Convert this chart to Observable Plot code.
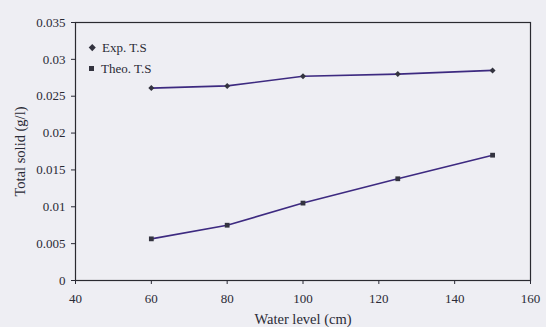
<!DOCTYPE html>
<html>
<head>
<meta charset="utf-8">
<script src="https://cdn.jsdelivr.net/npm/d3@7"></script>
<script src="https://cdn.jsdelivr.net/npm/@observablehq/plot@0.6"></script>
<style>
  html, body { margin: 0; padding: 0; background: #eeeef3; }
  #wrap { position: relative; width: 546px; height: 327px; background: #eeeef3; overflow: hidden; }
  #legend { position: absolute; left: 89px; top: 37px; font-family: "Liberation Serif", serif; font-size: 13px; color: #2a2a35; line-height: 21px; }
  #legend .row { display: flex; align-items: center; white-space: nowrap; }
  #legend .sym { display: inline-block; width: 5px; height: 5px; background: #33333f; margin-right: 7px; }
  #legend .sym.diamond2 { transform: rotate(45deg); width: 4.5px; height: 4.5px; margin-left: 1px; margin-right: 7.5px; }
</style>
</head>
<body>
<div id="wrap"><div id="legend"></div></div>
<script>
// Data
const waterLevel = [60, 80, 100, 125, 150];
const expTS = [0.0261, 0.0264, 0.0277, 0.0280, 0.0285];
const theoTS = [0.00565, 0.0075, 0.0105, 0.0138, 0.0170];
const seriesNames = ["Exp. T.S", "Theo. T.S"];
const seriesSymbols = ["diamond2", "square"];
const xTicks = [40, 60, 80, 100, 120, 140, 160];
const yTicks = [0, 0.005, 0.01, 0.015, 0.02, 0.025, 0.03, 0.035];
const xTitle = "Water level (cm)";
const yTitle = "Total solid (g/l)";

const rows = [];
[expTS, theoTS].forEach((vals, i) => {
  vals.forEach((v, j) => rows.push({series: seriesNames[i], x: waterLevel[j], y: v, symbol: seriesSymbols[i]}));
});

const lineColor = "#3d2a80";
const markColor = "#33333f";
const fmt = d3.format(".3~f");

const chart = Plot.plot({
  width: 546,
  height: 327,
  marginLeft: 75,
  marginRight: 16,
  marginTop: 22,
  marginBottom: 47,
  style: {background: "transparent", fontFamily: "Liberation Serif, serif", fontSize: "13px", color: "#2a2a35"},
  x: {domain: [40, 160]},
  y: {domain: [0, 0.035]},
  symbol: {domain: seriesSymbols, range: seriesSymbols},
  marks: [
    Plot.frame({stroke: "#2a2a30", strokeWidth: 1.2}),
    Plot.axisX({ticks: xTicks, tickSize: 4, tickPadding: 9, label: xTitle, labelAnchor: "center", labelArrow: "none", labelOffset: 43, fontSize: 13}),
    Plot.axisY({ticks: yTicks, tickSize: 4, tickPadding: 6, tickFormat: d => d === 0 ? "0" : fmt(d), label: yTitle, labelAnchor: "center", labelArrow: "none", labelOffset: 61, fontSize: 13}),
    Plot.line(rows, {x: "x", y: "y", z: "series", stroke: lineColor, strokeWidth: 1.6}),
    Plot.dot(rows, {x: "x", y: "y", symbol: "symbol", fill: markColor, r: 2.7, stroke: "none"})
  ]
});

// enlarge axis titles
chart.querySelectorAll("g[aria-label='x-axis label'] text, g[aria-label='y-axis label'] text").forEach(t => t.setAttribute("font-size", "14.5"));
document.getElementById("wrap").prepend(chart);

const legend = document.getElementById("legend");
seriesNames.forEach((name, i) => {
  const row = document.createElement("div");
  row.className = "row";
  const s = document.createElement("span");
  s.className = "sym " + seriesSymbols[i];
  row.appendChild(s);
  row.appendChild(document.createTextNode(name));
  legend.appendChild(row);
});
</script>
</body>
</html>
